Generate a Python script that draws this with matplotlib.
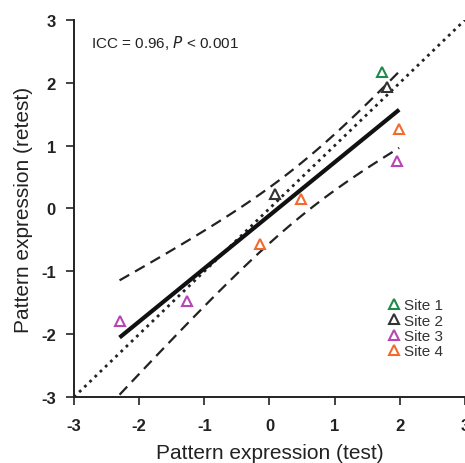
import numpy as np
import matplotlib
matplotlib.use("Agg")
import matplotlib.pyplot as plt

plt.rcParams['font.family'] = ['Liberation Sans', 'DejaVu Sans']

# test / retest pattern expression per site
site_names = ["Site 1", "Site 2", "Site 3", "Site 4"]
site_colors = ["#1f8a4c", "#333333", "#b845b4", "#f26a2e"]
test_vals = [[1.72], [1.81, 0.09], [1.95, -1.26, -2.30], [1.99, 0.49, -0.15]]
retest_vals = [[2.17], [1.93, 0.23], [0.76, -1.47, -1.79], [1.27, 0.15, -0.57]]

ticks = [-3, -2, -1, 0, 1, 2, 3]

fig = plt.figure(figsize=(4.65, 4.64), dpi=100)
ax = fig.add_axes([0.159, 0.142, 0.841, 0.813])

# line of identity
ax.plot([-3, 3], [-3, 3], color="#222222", linestyle=(0, (1, 1.6)), lw=2.0)

# regression + 95% CI of the mean
x = np.concatenate([np.array(v) for v in test_vals])
y = np.concatenate([np.array(v) for v in retest_vals])
n = len(x)
slope, icpt = np.polyfit(x, y, 1)
resid = y - (slope * x + icpt)
s = np.sqrt(np.sum(resid ** 2) / (n - 2))
sxx = np.sum((x - x.mean()) ** 2)
t_crit = 2.365  # t(0.975, df=7)
xs = np.linspace(x.min(), x.max(), 100)
fit = slope * xs + icpt
half = t_crit * s * np.sqrt(1.0 / n + (xs - x.mean()) ** 2 / sxx)
ax.plot(xs, fit, color="#111111", lw=3.0, solid_capstyle="butt")
ax.plot(xs, fit + half, color="#222222", lw=1.6, linestyle=(0, (5, 3)))
ax.plot(xs, fit - half, color="#222222", lw=1.6, linestyle=(0, (5, 3)))

for name, col, tx, ty in zip(site_names, site_colors, test_vals, retest_vals):
    ax.plot(tx, ty, linestyle="none", marker="^", markersize=7.5,
            markerfacecolor="white", markeredgecolor=col, markeredgewidth=1.5,
            label=name, zorder=5)

ax.set_xlim(-3, 3)
ax.set_ylim(-3, 3)
ax.set_xticks(ticks)
ax.set_yticks(ticks)
ax.set_xticklabels([str(t) for t in ticks], fontweight="bold", fontsize=12)
ax.set_yticklabels([str(t) for t in ticks], fontweight="bold", fontsize=12)
ax.tick_params(direction="out", length=6, width=1.2, color="#222222",
               labelcolor="#222222")
ax.tick_params(axis="x", pad=9)
ax.tick_params(axis="y", pad=7)
for side in ["top", "right"]:
    ax.spines[side].set_visible(False)
for side in ["left", "bottom"]:
    ax.spines[side].set_linewidth(1.4)
    ax.spines[side].set_color("#222222")

ax.set_xlabel("Pattern expression (test)", fontsize=15, color="#222222", labelpad=7)
ax.set_ylabel("Pattern expression (retest)", fontsize=15, color="#222222", labelpad=6)

ax.text(0.044, 0.965, r"ICC = 0.96, $\it{P}$ < 0.001", transform=ax.transAxes,
        fontsize=11, color="#222222", va="top", ha="left")

ax.legend(loc="lower right", bbox_to_anchor=(0.97, 0.075), frameon=False,
          fontsize=11, handletextpad=0.0, labelspacing=0.08, borderpad=0.2,
          handlelength=1.2, labelcolor="#333333")

fig.savefig("out.png", dpi=100)
